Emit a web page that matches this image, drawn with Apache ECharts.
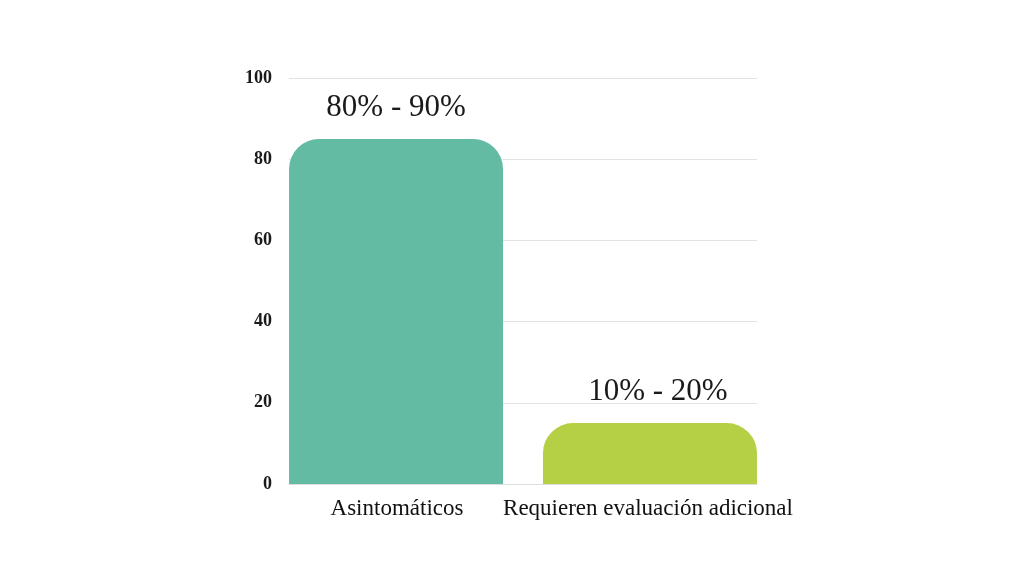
<!DOCTYPE html>
<html>
<head>
<meta charset="utf-8">
<script src="https://cdn.jsdelivr.net/npm/echarts@6/dist/echarts.min.js"></script>
<style>
  html, body { margin: 0; padding: 0; background: #fff; }
  #chart { width: 1024px; height: 576px; }
</style>
</head>
<body>
<div id="chart"></div>
<script>
var categories = ['Asintomáticos', 'Requieren evaluación adicional'];
var asintomaticos = [85, '-'];
var requieren = ['-', 15];
var rangeLabels = ['80% - 90%', '10% - 20%'];
var yTicks = [0, 20, 40, 60, 80, 100];

var myChart = echarts.init(document.getElementById('chart'));
var serifFont = '"Liberation Serif", "DejaVu Serif", serif';

var labelStyle = {
	show: true,
	position: 'top',
	distance: 16,
	fontFamily: serifFont,
	fontSize: 31,
	color: '#1a1a1a'
};

var option = {
	animation: false,
	grid: {
		top: 78,
		bottom: 92,
		left: 289,
		right: 267
	},
	xAxis: {
		type: 'category',
		data: categories,
		axisLine: { show: true, lineStyle: { color: '#dddddd' } },
		axisTick: { show: false },
		axisLabel: {
			interval: 0,
			margin: 13,
			formatter: function (v, i) {
				return i === 0 ? '{a|' + v + '}' : '{b|' + v + '}';
			},
			rich: {
				a: { fontFamily: serifFont, fontSize: 23, color: '#111', padding: [0, 18, 0, 0] },
				b: { fontFamily: serifFont, fontSize: 23, color: '#111', padding: [0, 0, 0, 16] }
			}
		}
	},
	yAxis: {
		type: 'value',
		min: yTicks[0],
		max: yTicks[yTicks.length - 1],
		interval: 20,
		axisLine: { show: false },
		axisTick: { show: false },
		splitLine: { lineStyle: { color: '#e2e2e2' } },
		axisLabel: {
			margin: 17,
			fontFamily: serifFont,
			fontWeight: 'bold',
			fontSize: 18,
			color: '#1a1a1a'
		}
	},
	series: [{
		name: 'Asintomáticos',
		type: 'bar',
		barWidth: 214,
		barGap: '-90.7%',
		data: asintomaticos,
		itemStyle: { color: '#63bba3', borderRadius: [30, 30, 0, 0] },
		label: Object.assign({}, labelStyle, { formatter: rangeLabels[0] })
	}, {
		name: 'Requieren evaluación adicional',
		type: 'bar',
		barWidth: 214,
		data: requieren,
		itemStyle: { color: '#b5d044', borderRadius: [30, 30, 0, 0] },
		label: Object.assign({}, labelStyle, { formatter: rangeLabels[1], offset: [8, 0] })
	}]
};

myChart.setOption(option);
</script>
</body>
</html>
